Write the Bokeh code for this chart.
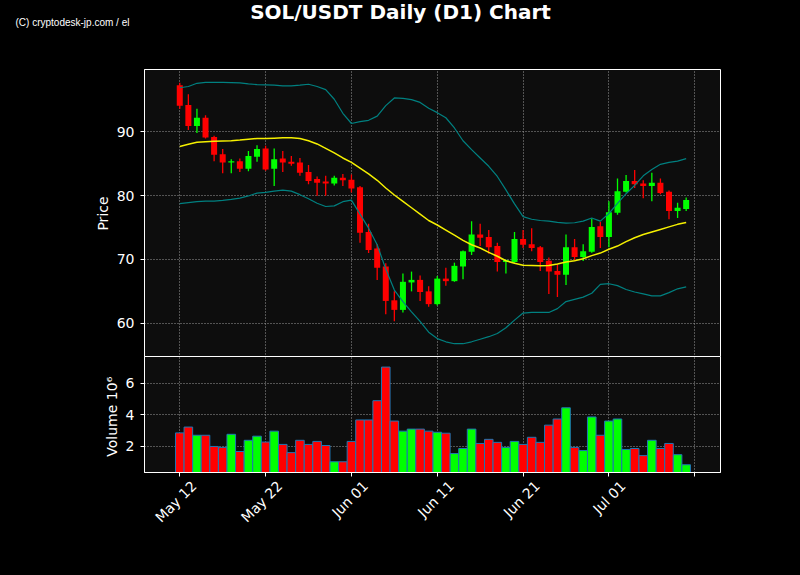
import math
import pandas as pd
from bokeh.plotting import figure
from bokeh.layouts import column
from bokeh.models import ColumnDataSource, Range1d, FixedTicker, Label
from bokeh.embed import file_html
from bokeh.resources import INLINE

# ---------------- data ----------------
start_date = "2024-05-12"
n_days = 60
opens = [97.3, 94.2, 90.9, 92.2, 89.2, 86.5, 85.2, 85.4, 84.2, 86.1,
         87.4, 84.2, 85.8, 85.3, 85.2, 83.7, 82.6, 82.2, 81.9, 82.8,
         82.5, 81.3, 74.3, 71.7, 68.9, 63.6, 62.1, 66.4, 66.8, 65.0,
         63.0, 67.0, 66.6, 68.9, 71.2, 73.9, 73.5, 72.1, 69.6, 69.6,
         73.2, 72.4, 71.9, 69.8, 68.2, 67.6, 71.9, 70.4, 71.2, 75.2,
         73.5, 77.3, 80.6, 82.3, 81.9, 81.5, 82.0, 80.6, 77.6, 77.9]
highs = [97.7, 95.9, 93.6, 92.6, 89.4, 87.3, 85.7, 85.8, 87.0, 87.9,
         87.8, 87.4, 87.0, 86.2, 85.9, 84.8, 83.0, 83.1, 83.1, 83.4,
         83.3, 81.5, 75.6, 72.4, 69.4, 65.0, 67.8, 68.1, 67.5, 65.8,
         67.4, 68.7, 69.5, 71.4, 76.0, 75.6, 74.6, 72.6, 70.0, 74.3,
         74.6, 74.9, 72.1, 70.3, 69.3, 73.9, 73.2, 72.4, 76.4, 75.9,
         79.1, 82.7, 83.25, 84.0, 82.4, 83.6, 82.7, 80.8, 78.9, 79.7]
lows = [93.6, 90.3, 89.8, 88.95, 85.4, 83.5, 83.5, 83.7, 83.8, 85.3,
        83.9, 81.5, 83.7, 84.7, 83.1, 81.8, 80.0, 80.0, 81.6, 81.5,
        80.5, 72.6, 71.0, 66.8, 61.4, 60.3, 61.7, 65.0, 63.5, 62.6,
        62.8, 65.9, 66.5, 66.9, 70.7, 72.1, 70.9, 68.1, 67.8, 69.5,
        71.8, 71.3, 68.2, 64.6, 64.1, 66.0, 69.9, 69.75, 71.05, 71.8,
        71.9, 77.0, 80.5, 81.2, 79.6, 79.1, 80.2, 76.3, 76.5, 77.6]
closes = [94.1, 90.9, 92.2, 89.1, 86.4, 85.2, 85.4, 84.2, 86.2, 87.3,
          84.1, 85.7, 85.2, 85.0, 83.6, 82.3, 82.0, 81.9, 82.8, 82.4,
          81.1, 74.2, 71.5, 68.7, 63.5, 62.1, 66.5, 66.8, 64.9, 63.0,
          67.0, 66.6, 69.0, 71.3, 73.9, 73.4, 71.9, 69.6, 69.9, 73.2,
          72.3, 71.8, 69.6, 68.1, 67.6, 71.9, 70.4, 71.3, 75.1, 73.5,
          77.4, 80.7, 82.3, 81.8, 81.5, 82.0, 80.4, 77.6, 78.1, 79.3]
volumes_m = [2.86, 3.23, 2.71, 2.71, 2.00, 1.94, 2.77, 1.68, 2.39, 2.65,
             2.28, 2.97, 2.13, 1.61, 2.39, 2.13, 2.32, 2.06, 1.03, 1.03,
             2.32, 3.68, 3.68, 4.90, 7.03, 3.61, 2.97, 3.10, 3.10, 2.97,
             2.90, 2.84, 1.55, 1.87, 3.10, 2.19, 2.45, 2.26, 1.94, 2.32,
             2.13, 2.58, 2.26, 3.35, 3.74, 4.45, 1.94, 1.74, 3.87, 2.71,
             3.61, 3.74, 1.81, 1.87, 1.42, 2.39, 1.87, 2.19, 1.48, 0.84]
ma20 = [87.7, 88.05, 88.35, 88.45, 88.5, 88.55, 88.6, 88.7, 88.85, 88.95,
        88.95, 89.0, 89.05, 89.05, 88.95, 88.6, 88.1, 87.4, 86.7, 85.9,
        85.2, 84.3, 83.4, 82.4, 81.2, 80.1, 79.1, 78.1, 77.1, 76.1,
        75.4, 74.6, 73.8, 73.0, 72.3, 71.8, 71.1, 70.5, 69.8, 69.4,
        69.1, 69.05, 69.0, 69.05, 69.3, 69.6, 69.8, 70.1, 70.6, 71.0,
        71.6, 72.1, 72.8, 73.4, 73.9, 74.3, 74.7, 75.1, 75.5, 75.8]
bb_upper = [96.9, 97.1, 97.6, 97.75, 97.75, 97.75, 97.7, 97.65, 97.5, 97.4,
            97.35, 97.3, 97.2, 97.2, 97.3, 97.45, 97.1, 96.6, 95.1, 92.9,
            91.3, 91.6, 91.8, 92.45, 94.1, 95.3, 95.25, 95.05, 94.6, 93.7,
            93.0, 92.2, 90.6, 88.6, 87.2, 85.9, 84.6, 83.0, 80.9, 78.7,
            76.7, 76.3, 76.1, 76.0, 75.8, 75.7, 75.75, 76.0, 76.5, 76.0,
            77.2, 78.8, 80.3, 81.6, 83.1, 84.1, 84.9, 85.2, 85.4, 85.8]
bb_lower = [78.75, 78.9, 79.05, 79.15, 79.15, 79.25, 79.4, 79.6, 79.95, 80.4,
            80.5, 80.7, 80.85, 80.7, 80.15, 79.5, 78.8, 78.3, 78.4, 79.05,
            79.3, 77.1, 74.9, 72.3, 68.5, 65.2, 63.4, 61.8, 60.3, 58.6,
            57.6, 57.1, 56.8, 56.8, 57.1, 57.5, 57.9, 58.4, 59.3, 60.5,
            61.6, 61.7, 61.7, 61.7, 62.3, 63.4, 63.75, 64.1, 64.7, 66.1,
            66.2, 65.9, 65.3, 64.9, 64.6, 64.3, 64.3, 64.8, 65.4, 65.7]
tick_dates = ["2024-05-12", "2024-05-22", "2024-06-01", "2024-06-11",
              "2024-06-21", "2024-07-01", "2024-07-11"]
tick_labels = ["May 12", "May 22", "Jun 01", "Jun 11", "Jun 21", "Jul 01", ""]
price_ticks = [60, 70, 80, 90]
volume_ticks = [2, 4, 6]

title_text = "SOL/USDT Daily (D1) Chart"
credit_text = "(C) cryptodesk-jp.com / el"

# ---------------- styling ----------------
UP, DOWN = "#00ff00", "#ff0000"
BG, PANEL = "#000000", "#0d0d0d"
GRID = "#9a9a9a"
FONT = "DejaVu Sans"
W = 800

dates = pd.date_range(start_date, periods=n_days, freq="D")
DAY_MS = 86400000.0
colors = [UP if c >= o else DOWN for o, c in zip(opens, closes)]
src = ColumnDataSource(dict(x=dates, open=opens, high=highs, low=lows, close=closes,
                            vol=volumes_m, color=colors))

def ms(d):
    return pd.Timestamp(d).value / 1e6

tick_ms = [ms(d) for d in tick_dates]
label_shift = 1.65 * DAY_MS
label_ms = [t + label_shift for t in tick_ms]

x0 = pd.Timestamp(start_date)
x_range = Range1d(start=x0 - pd.Timedelta(hours=4.11 * 24), end=x0 + pd.Timedelta(hours=63.0 * 24))

common = dict(x_range=x_range, x_axis_type="datetime", output_backend="svg",
              toolbar_location=None, title=None, min_border_left=144, min_border_right=80,
              background_fill_color=PANEL, border_fill_color=BG,
              outline_line_color="white", outline_line_width=1)

def style_y(fig, ticks):
    ax = fig.yaxis[0]
    ax.ticker = FixedTicker(ticks=ticks)
    ax.axis_line_color = "white"
    ax.major_tick_line_color = "white"
    ax.major_tick_in = 0
    ax.major_tick_out = 4
    ax.minor_tick_line_color = None
    ax.major_label_text_color = "white"
    ax.major_label_text_font = FONT
    ax.major_label_text_font_size = "14px"
    ax.major_label_standoff = 6
    ax.axis_label_text_color = "white"
    ax.axis_label_text_font = FONT
    ax.axis_label_text_font_size = "14px"
    ax.axis_label_text_font_style = "normal"
    ax.axis_label_standoff = 3
    fig.ygrid.ticker = FixedTicker(ticks=ticks)
    fig.ygrid.grid_line_color = GRID
    fig.ygrid.grid_line_dash = "1 2"
    fig.ygrid.grid_line_width = 1
    fig.xgrid.ticker = FixedTicker(ticks=tick_ms)
    fig.xgrid.grid_line_color = GRID
    fig.xgrid.grid_line_dash = "1 2"
    fig.xgrid.grid_line_width = 1

# ---------------- header (title + credit) ----------------
h = figure(width=W, height=69, x_range=Range1d(0, W), y_range=Range1d(0, 69),
           output_backend="svg", toolbar_location=None, title=None,
           x_axis_location=None, y_axis_location=None, min_border=0,
           background_fill_color=BG, border_fill_color=BG, outline_line_color=None)
h.frame_align = False
h.grid.visible = False
h.add_layout(Label(x=400, y=58, text=title_text, text_color="white", text_font=FONT,
                   text_font_size="20px", text_font_style="bold",
                   text_align="center", text_baseline="middle"))
h.add_layout(Label(x=15, y=47.5, text=credit_text, text_color="white",
                   text_font="Liberation Sans", text_font_size="10px",
                   text_align="left", text_baseline="middle"))

# ---------------- price panel ----------------
p = figure(width=W, height=288, y_range=Range1d(54.64, 99.76),
           min_border_top=0, min_border_bottom=0, **common)
p.xaxis.visible = False
style_y(p, price_ticks)
p.yaxis.axis_label = "Price"

p.segment(x0="x", y0="low", x1="x", y1="high", color="color", line_width=1.3, source=src)
p.vbar(x="x", width=0.7 * DAY_MS, top="open", bottom="close", fill_color="color",
       line_color=None, source=src)
p.line(dates, bb_upper, color="#008080", line_width=1.2)
p.line(dates, bb_lower, color="#008080", line_width=1.2)
p.line(dates, ma20, color="#f5f000", line_width=1.5)

# ---------------- volume panel ----------------
v = figure(width=W, height=216, y_range=Range1d(0.35, 7.7),
           min_border_top=0, min_border_bottom=100, **common)
v.margin = (-1, 0, 0, 0)
style_y(v, volume_ticks)
v.yaxis.axis_label = "Volume  10\u2076"
v.vbar(x="x", width=DAY_MS, top="vol", bottom=0, fill_color="color",
       line_color="#1f77b4", line_width=1, source=src)

xa = v.xaxis[0]
xa.ticker = FixedTicker(ticks=label_ms, minor_ticks=tick_ms)
xa.major_label_overrides = {t: lab for t, lab in zip(label_ms, tick_labels)}
xa.major_label_orientation = math.pi / 4
xa.axis_line_color = "white"
xa.major_tick_line_color = None
xa.major_tick_in = 0
xa.major_tick_out = 4
xa.minor_tick_line_color = "white"
xa.minor_tick_in = 0
xa.minor_tick_out = 4
xa.major_label_text_color = "white"
xa.major_label_text_font = FONT
xa.major_label_text_font_size = "14px"
xa.major_label_standoff = 7

layout = column(h, p, v, spacing=0)

TEMPLATE = """
{% block preamble %}
<style>html, body { background-color: #000000; }</style>
{% endblock %}
"""
open("out.html", "w").write(file_html(layout, INLINE, title=title_text, template=TEMPLATE))
